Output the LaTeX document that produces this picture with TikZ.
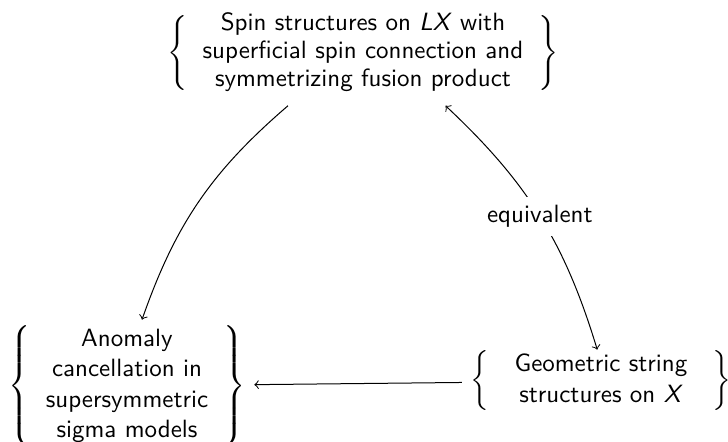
\documentclass[tikz,border=0pt]{standalone}
\renewcommand{\familydefault}{\sfdefault}
\usetikzlibrary{arrows}

\begin{document}
\begin{tikzpicture}[x=0.01406cm,y=-0.01406cm]
	\useasboundingbox (0,0) rectangle (728,442);
	\node (spin) at (363,53) {$\left\{\renewcommand{\arraystretch}{0.92}\begin{tabular}{c}Spin structures on \textsl{LX} with\\ superficial spin connection and\\ symmetrizing fusion product\end{tabular}\right\}$};
	\node (anom) at (127,386) {$\left\{\begin{tabular}{c}Anomaly\\ cancellation in\\ supersymmetric\\ sigma models\end{tabular}\right\}$};
	\node (geom) at (601,381) {$\left\{\begin{tabular}{@{\hspace{10pt}}c@{\hspace{10pt}}}Geometric string\\ structures on \textsl{X}\end{tabular}\right\}$};

	\draw[->] ([xshift=-30pt,yshift=-1pt]spin.south) to[bend right=15] ([xshift=6pt,yshift=-1pt]anom.north);
	\draw[<->] ([xshift=33pt,yshift=-1pt]spin.south) to[bend left=15] node[fill=white] {equivalent} ([xshift=-1.5pt,yshift=-3pt]geom.north);
	\draw[->] (geom) -- (anom);
\end{tikzpicture}
\end{document}
